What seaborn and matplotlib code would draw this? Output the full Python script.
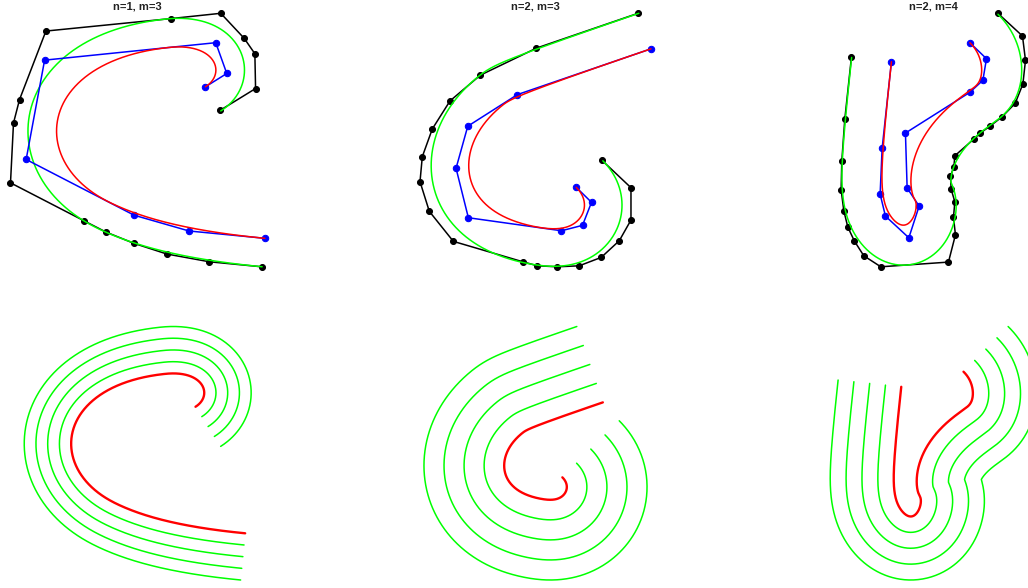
import numpy as np
import matplotlib
matplotlib.use("Agg")
import matplotlib.pyplot as plt
import seaborn as sns

titles = ["n=1, m=3", "n=2, m=3", "n=2, m=4"]

# blue control points of the red curves (top-row pixel units, y down)
ctrl1_x = [204.0, 225.3, 214.3, 43.7, 25.3, 133.0, 187.7, 263.3]
ctrl1_y = [87.3, 74.0, 43.3, 60.7, 159.7, 215.3, 231.0, 238.3]
ctrl2_x = [576.0, 591.3, 582.3, 561.3, 468.3, 456.0, 467.7, 517.3, 650.7]
ctrl2_y = [187.3, 202.3, 225.3, 230.7, 217.7, 168.3, 126.3, 94.7, 49.0]
ctrl3_x = [890.3, 881.0, 879.0, 884.3, 907.7, 918.0, 906.0, 904.3, 968.7, 981.7, 985.3, 968.7]
ctrl3_y = [61.7, 148.3, 194.0, 216.0, 237.7, 206.0, 188.0, 133.0, 92.3, 80.3, 58.7, 42.7]

# spline degree and interior knots of each red curve
degrees = [3, 4, 4]
knots1 = [0.208, 0.208, 0.773, 0.822]
knots2 = [0.12, 0.16, 0.20, 0.90]
knots3 = [0.168, 0.337, 0.519, 0.540, 0.548, 0.877, 0.879]

# black control points of the approximated offset (green) curves
off1_x = [218.7, 254.0, 253.3, 242.7, 219.3, 169.3, 45.0, 18.7, 12.7, 9.7,
          82.7, 104.7, 132.7, 165.7, 208.0, 260.3]
off1_y = [110.7, 89.0, 54.3, 39.0, 14.0, 19.3, 31.7, 100.0, 123.3, 183.0,
          220.7, 232.0, 243.3, 254.0, 261.7, 266.7]
off2_x = [601.7, 630.7, 630.7, 619.0, 601.0, 579.0, 557.3, 537.3, 522.7,
          453.3, 429.3, 420.0, 422.3, 432.3, 450.0, 480.3, 536.3, 637.3]
off2_y = [160.3, 187.7, 220.0, 240.7, 257.3, 265.7, 266.7, 265.7, 261.7,
          241.3, 211.3, 181.7, 156.7, 129.0, 101.0, 75.3, 48.3, 13.7]
off3_x = [850.3, 843.7, 840.7, 840.0, 842.7, 846.7, 853.3, 862.7, 879.7,
          947.3, 954.3, 952.3, 953.7, 950.0, 949.3, 952.7, 953.7, 972.7,
          978.7, 989.0, 1001.0, 1014.0, 1021.7, 1024.3, 1021.3, 996.7]
off3_y = [57.3, 119.0, 161.0, 189.7, 210.7, 227.0, 241.0, 255.7, 266.7,
          262.0, 234.7, 217.3, 201.7, 189.3, 176.0, 167.0, 155.7, 139.0,
          133.3, 126.0, 116.7, 103.3, 84.0, 60.3, 36.0, 13.3]

top_dist = [28.5, -37.5, 40.0]      # offset distance shown in the top row
bottom_step = [14.0, -37.0, 20.0]   # spacing of the offset family below
n_offsets = 4

centers = [137.7, 535.5, 933.3]
row_tops = [13.3, 326.5]
box_w, box_h = 380.0, 253.5
W, H = 1028, 588


def bspline(p, k, inner, num=800):
    knots = np.concatenate([np.zeros(k + 1), inner, np.ones(k + 1)])
    t = np.linspace(0, 1, num)
    t[-1] -= 1e-9
    L = len(knots)
    B = ((knots[:-1, None] <= t[None, :]) & (t[None, :] < knots[1:, None])).astype(float)
    for d in range(1, k + 1):
        a = knots[d:L - 1] - knots[:L - 1 - d]
        b = knots[d + 1:L] - knots[1:L - d]
        ia = np.where(a > 1e-12, 1 / np.where(a > 1e-12, a, 1), 0)
        ib = np.where(b > 1e-12, 1 / np.where(b > 1e-12, b, 1), 0)
        B = ((t[None, :] - knots[:L - 1 - d, None]) * ia[:, None] * B[:-1]
             + (knots[d + 1:L, None] - t[None, :]) * ib[:, None] * B[1:])
    return B.T @ p


def offset(c, dist):
    dx = np.gradient(c[:, 0])
    dy = np.gradient(c[:, 1])
    L = np.hypot(dx, dy)
    return np.column_stack([c[:, 0] - dist * dy / L, c[:, 1] + dist * dx / L])


def trim_loops(c):
    # cut out the small swallowtail loops of an offset
    out = c
    i = 0
    while i < len(out) - 3:
        p1, p2 = out[i], out[i + 1]
        q1, q2 = out[i + 2:-1], out[i + 3:]
        d1 = p2 - p1
        d2 = q2 - q1
        den = d1[0] * d2[:, 1] - d1[1] * d2[:, 0]
        w = q1 - p1
        with np.errstate(divide="ignore", invalid="ignore"):
            s = (w[:, 0] * d2[:, 1] - w[:, 1] * d2[:, 0]) / den
            u = (w[:, 0] * d1[1] - w[:, 1] * d1[0]) / den
        hit = np.where((den != 0) & (s >= 0) & (s <= 1) & (u >= 0) & (u <= 1))[0]
        if len(hit):
            h = hit[-1]
            out = np.vstack([out[:i + 1], p1 + s[h] * d1, out[h + i + 3:]])
        i += 1
    return out


def place(fig, cx, top, pts):
    # equal aspect, tight around the data, centred in a fixed box
    ax = fig.add_axes([(cx - box_w / 2) / W, 1 - (top + box_h) / H,
                       box_w / W, box_h / H])
    allp = np.vstack(pts)
    x0, y0 = allp.min(axis=0)
    x1, y1 = allp.max(axis=0)
    s = min(box_h / (y1 - y0), box_w / (x1 - x0))
    xc, yc = (x0 + x1) / 2, (y0 + y1) / 2
    ax.set_xlim(xc - box_w / 2 / s, xc + box_w / 2 / s)
    ax.set_ylim(yc + box_h / 2 / s, yc - box_h / 2 / s)
    ax.axis("off")
    return ax


def line(ax, xy, color, lw, **kw):
    sns.lineplot(x=xy[:, 0], y=xy[:, 1], sort=False, estimator=None, color=color,
                 linewidth=lw, ax=ax, clip_on=False, **kw)


sns.set_theme(style="white")
plt.rcParams["font.family"] = ["Liberation Sans", "DejaVu Sans"]

fig = plt.figure(figsize=(W / 100, H / 100), dpi=100)

ctrls = [(ctrl1_x, ctrl1_y), (ctrl2_x, ctrl2_y), (ctrl3_x, ctrl3_y)]
knots = [knots1, knots2, knots3]
offs = [(off1_x, off1_y), (off2_x, off2_y), (off3_x, off3_y)]

for i in range(3):
    cpts = np.column_stack(ctrls[i])
    opts = np.column_stack(offs[i])
    red = bspline(cpts, degrees[i], knots[i])
    green = trim_loops(offset(red, top_dist[i]))

    # top row: curve with its control polygon, offset with its polygon
    ax = place(fig, centers[i], row_tops[0], [cpts, opts, red, green])
    line(ax, opts, "black", 1.1, marker="o", markersize=4.3,
         markeredgecolor="black", markerfacecolor="black")
    line(ax, green, "#00ff00", 1.1)
    line(ax, cpts, "#0000ff", 1.1, marker="o", markersize=4.6,
         markeredgecolor="#0000ff", markerfacecolor="#0000ff")
    line(ax, red, "#ff0000", 1.1)
    ax.set_title(titles[i], fontsize=8, fontweight="bold", color="#222222", pad=2.4)

    # bottom row: the curve with a family of offsets
    fam = [trim_loops(offset(red, bottom_step[i] * (j + 1))) for j in range(n_offsets)]
    ax2 = place(fig, centers[i], row_tops[1], [red] + fam)
    for g in fam:
        line(ax2, g, "#00ff00", 1.1)
    line(ax2, red, "#ff0000", 1.7)

fig.savefig("out.png", dpi=100)
